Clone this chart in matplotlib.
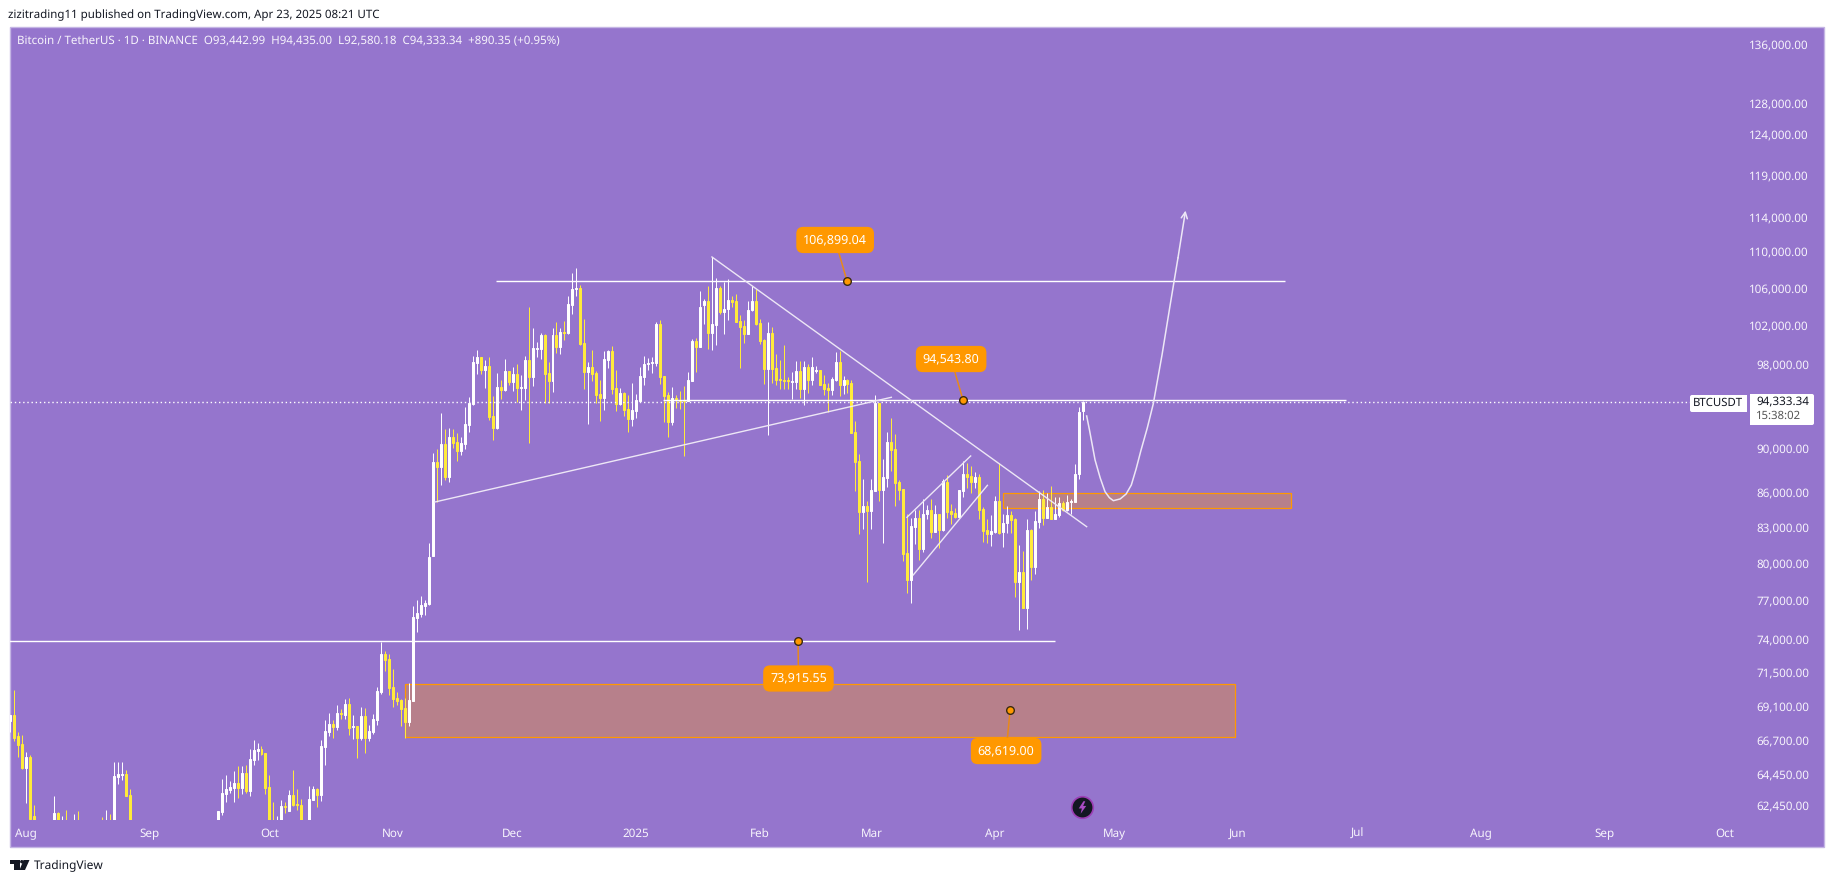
import matplotlib
matplotlib.use("Agg")
import matplotlib.pyplot as plt
from matplotlib.patches import FancyBboxPatch, Polygon, Rectangle, Circle
from matplotlib.path import Path
from matplotlib.transforms import Affine2D

# daily candles, (open, high, low, close)
jul_candles = [
    (68000, 68480, 67300, 68480), (68480, 70250, 66620, 66890), (66960, 67240, 65540, 66350),
    (66420, 67030, 64750, 64810),
]
aug_candles = [
    (64810, 65880, 62540, 65540), (65540, 65670, 61100, 61530), (61720, 62410, 59900, 60700),
    (60700, 61100, 57300, 58100), (58100, 58300, 49200, 54000), (54000, 57000, 53900, 56000),
    (56000, 57700, 54500, 55000), (55000, 62990, 54800, 61900), (61900, 61970, 60300, 60900),
    (60900, 61720, 60500, 61500), (61500, 62095, 60700, 60900), (60900, 61500, 58500, 58700),
    (58700, 61840, 58400, 59350), (59350, 62030, 58600, 58700), (58700, 59800, 56100, 57500),
    (57500, 59800, 57000, 58900), (58900, 60200, 58800, 59500), (59500, 60200, 57900, 58400),
    (58400, 61400, 58100, 59400), (59400, 61650, 58800, 59000), (59000, 62095, 58800, 61100),
    (61100, 61840, 59800, 60400), (60400, 65210, 60300, 64285), (64220, 65210, 63760, 64420),
    (64350, 65210, 64020, 64420), (64420, 64680, 62990, 62990), (63050, 63440, 58100, 59500),
    (59500, 61100, 58000, 59000), (59000, 61100, 58700, 59350), (59350, 60000, 57800, 59100),
    (59100, 59400, 57200, 57300),
]
sep_candles = [
    (57300, 58900, 57200, 57900), (57900, 59800, 57100, 59100), (59100, 59800, 57400, 57500),
    (57500, 58500, 55600, 57900), (57900, 58300, 55600, 56100), (56100, 57000, 52500, 53900),
    (53900, 54800, 53700, 54100), (54100, 55300, 53600, 54800), (54800, 58100, 54600, 57000),
    (57000, 58000, 56300, 57600), (57600, 58000, 55500, 57300), (57300, 58600, 57300, 58100),
    (58100, 60600, 57600, 60500), (60500, 60600, 59400, 60000), (60000, 60400, 58700, 59100),
    (59100, 59200, 57500, 58200), (58200, 61300, 57600, 60300), (60300, 62030, 59200, 62030),
    (61970, 64090, 61780, 63180), (63115, 64350, 62600, 63440), (63375, 63960, 63180, 63570),
    (63500, 64615, 62600, 63830), (63830, 64945, 62860, 63500), (63500, 64945, 63115, 64480),
    (64480, 65010, 63180, 63310), (63310, 66080, 62990, 65410), (65345, 66690, 65010, 66010),
    (65945, 66485, 65345, 66080), (66080, 66280, 65670, 65745), (65810, 65810, 63115, 63500),
]
oct_candles = [
    (63570, 64350, 60100, 60800), (60800, 62600, 60000, 60600), (60600, 61720, 59800, 60750),
    (60750, 62730, 60400, 62350), (62350, 62600, 61900, 62285), (62030, 63375, 62030, 63050),
    (63050, 64680, 62350, 62410), (62475, 63440, 62095, 62410), (62410, 62795, 60200, 60300),
    (60300, 61500, 60200, 61000), (61000, 63630, 60800, 62795), (62730, 63630, 62730, 63440),
    (63440, 63503, 62285, 63050), (63050, 66690, 62665, 66280), (66215, 68130, 65010, 67305),
    (67240, 68620, 66960, 67855), (67855, 68130, 66890, 67580), (67580, 69180, 67375, 68620),
    (68620, 68900, 68200, 68550), (68480, 69610, 68200, 69250), (69250, 69680, 67030, 67510),
    (67580, 68480, 66760, 67650), (67650, 67650, 65480, 66825), (66825, 69040, 66690, 68410),
    (68410, 68970, 65810, 66825), (66825, 67785, 66620, 67305), (67240, 68550, 67100, 68200),
    (68130, 70465, 67785, 70180), (70105, 73775, 69965, 72875), (72875, 73100, 71625, 72430),
    (72505, 72875, 69890, 70395),
]
nov_candles = [
    (70465, 71770, 69040, 69610), (69680, 70105, 69180, 69470), (69540, 69610, 67650, 68900),
    (68970, 69680, 66825, 67995), (67995, 70755, 67650, 69540), (69470, 76530, 69470, 75680),
    (75600, 77000, 74530, 75990), (75910, 77315, 75680, 76610), (76530, 77000, 75830, 76770),
    (76690, 81610, 76610, 80455), (80535, 89545, 80535, 88640), (88640, 89910, 85100, 88200),
    (88200, 93200, 86600, 90370), (90370, 91765, 87100, 87300), (87300, 91860, 86900, 91020),
    (91020, 91765, 90000, 90465), (90555, 91390, 88730, 89730), (89730, 91020, 89365, 90465),
    (90370, 93850, 89910, 92235), (92140, 94810, 91485, 94230), (94130, 98860, 94035, 98255),
    (98155, 99465, 97060, 98760), (98760, 98760, 97060, 97457), (97457, 98456, 95685, 97855),
    (97855, 98760, 92612, 92895), (92990, 94905, 90742, 91860), (91860, 97160, 91765, 95780),
    (95780, 96468, 94615, 95489), (95489, 98555, 95390, 97355), (97355, 97355, 95975, 96270),
]
dec_candles = [
    (96270, 97755, 95390, 97060), (97060, 98055, 94325, 95685), (95685, 96960, 93561, 95780),
    (95685, 98860, 94520, 98456), (98456, 103920, 90465, 96760), (96760, 101720, 95880, 99670),
    (99570, 100285, 98760, 99670), (99570, 101205, 98555, 100995), (100995, 101100, 94230, 97060),
    (97160, 98255, 94230, 96370), (96370, 101720, 95295, 100995), (100995, 102350, 99160, 99770),
    (99770, 101720, 99060, 101310), (101310, 102450, 100485, 101205), (101205, 105095, 101100, 104240),
    (104130, 107590, 103185, 105850), (105850, 108140, 105095, 105960), (105960, 106280, 99970, 100075),
    (100175, 102660, 95590, 97260), (97260, 98255, 92235, 97755), (97755, 99465, 96370, 97060),
    (97160, 97355, 94230, 95000), (95100, 96468, 92520, 94710), (94710, 99360, 93561, 98555),
    (98456, 99465, 97655, 99360), (99360, 99870, 95100, 95590), (95685, 97457, 93470, 94130),
    (94130, 95685, 94035, 95195), (95195, 95295, 92990, 93561), (93650, 95000, 91485, 92705),
    (92705, 96175, 92050, 93561),
]
jan_candles = [
    (93465, 95100, 92800, 94520), (94420, 97755, 94325, 96860), (96760, 98860, 95975, 98050),
    (98055, 98660, 97457, 98155), (98155, 98760, 97160, 98255), (98155, 102350, 97855, 102135),
    (102135, 102555, 96075, 96760), (96860, 96860, 92425, 94905), (95000, 95295, 91020, 92425),
    (92425, 95780, 92140, 94710), (94710, 95000, 93755, 94520), (94520, 95390, 93655, 94420),
    (94520, 95880, 89270, 94420), (94420, 97260, 94420, 96468), (96370, 100590, 96370, 100385),
    (100385, 100690, 97260, 99770), (99770, 105635, 99770, 103920), (104130, 104775, 102135, 104560),
    (104560, 106180, 99570, 101205), (101205, 109350, 99465, 102135), (102035, 107045, 99970, 105960),
    (105960, 106180, 103185, 103395), (103395, 106610, 101100, 103710), (103710, 106935, 102555, 104670),
    (104670, 105095, 103920, 104450), (104560, 105310, 102345, 102345), (102450, 103080, 97655, 101820),
    (101925, 102555, 100175, 101100), (101100, 104560, 101100, 103605), (103605, 106180, 103500, 104560),
    (104560, 105850, 102035, 102135),
]
feb_candles = [
    (102240, 102660, 100075, 100385), (100485, 100590, 96075, 97555), (97555, 102345, 91205, 101205),
    (101205, 101825, 96170, 97555), (97655, 99060, 95975, 96468), (96565, 98456, 95590, 96468),
    (96468, 99970, 95590, 96370), (96468, 96760, 95590, 96370), (96270, 97260, 94615, 96370),
    (96270, 98355, 95590, 97355), (97355, 98355, 94710, 95590), (95590, 98355, 94035, 97755),
    (97755, 98055, 95195, 96468), (96468, 98760, 95975, 97755), (97355, 97855, 97160, 97457),
    (97457, 97457, 95975, 95975), (96075, 96960, 95000, 95590), (95685, 96170, 93370, 95489),
    (95489, 96760, 95000, 96565), (96468, 99265, 96370, 98255), (98255, 99360, 94905, 95975),
    (95975, 96860, 95100, 96468), (96468, 96565, 95195, 96075), (96170, 96468, 91390, 91390),
    (91485, 92520, 86055, 88640), (88730, 89455, 82370, 84235), (84235, 87115, 82785, 84745),
    (84745, 85180, 78430, 84320),
]
mar_candles = [
    (84320, 87115, 82785, 86145), (86055, 95000, 86055, 94230), (94230, 94230, 85180, 86145),
    (86145, 89000, 81610, 87290), (87200, 91485, 86405, 90555), (90555, 92800, 87830, 89820),
    (89910, 91300, 84750, 86760), (86850, 87025, 85270, 86145), (86230, 86230, 80130, 80700),
    (80780, 84060, 77555, 78590), (78590, 83715, 76770, 83040), (82955, 84405, 81530, 83715),
    (83715, 84405, 80210, 81110), (81110, 85355, 80865, 84060), (84060, 84835, 83630, 84405),
    (84405, 85355, 82030, 82530), (82530, 84835, 82530, 84060), (84060, 84060, 81195, 82700),
    (82700, 87115, 82615, 86940), (86850, 87465, 83715, 84235), (84320, 84920, 83205, 84060),
    (84145, 84575, 83715, 83800), (83800, 86145, 83800, 86145), (86055, 88730, 85530, 87560),
    (87560, 88550, 86320, 87290), (87380, 88280, 85880, 86850), (86850, 87740, 86320, 87290),
    (87290, 87560, 83630, 84405), (84490, 84660, 81695, 82615), (82700, 83630, 81610, 82370),
    (82370, 83975, 81360, 82615),
]
apr_candles = [
    (82530, 85620, 82450, 85185), (85185, 88550, 82370, 82450), (82530, 84060, 81280, 83290),
    (83290, 84750, 82450, 83975), (83975, 84320, 82450, 83550), (83630, 83715, 77240, 78430),
    (78430, 81440, 74680, 79230), (79230, 80950, 76380, 76380), (76380, 83630, 74760, 82700),
    (82700, 82785, 78590, 79640), (79640, 84320, 79070, 83460), (83375, 86055, 82870, 85355),
    (85355, 86145, 83120, 83715), (83715, 85880, 83715, 84660), (84660, 86495, 83630, 83630),
    (83630, 85530, 83630, 84060), (83975, 85530, 83800, 85010), (85010, 85185, 84320, 84405),
    (84405, 85705, 84320, 85095), (85095, 85355, 84060, 85185), (85095, 88460, 85095, 87560),
    (87560, 93850, 87115, 93370), (93442.99, 94435.00, 92580.18, 94333.34),
]

# x axis: days counted from 1 Aug 2024
first_day = -4
month_days = [0, 31, 61, 92, 122, 153, 184, 212, 243, 273, 304, 334, 365, 396, 426]
month_labels = ["Aug", "Sep", "Oct", "Nov", "Dec", "2025", "Feb", "Mar", "Apr", "May", "Jun", "Jul", "Aug", "Sep", "Oct"]
price_ticks = [136000, 128000, 124000, 119000, 114000, 110000, 106000, 102000, 98000, 90000,
               86000, 83000, 80000, 77000, 74000, 71500, 69100, 66700, 64450, 62450]

# drawings on the chart, days and prices
top_level = 106700
mid_level = 94464
low_level = 73830
last_price = 94333.34
support_days, support_prices = [102.5, 217], [85125, 94755]
falling_days, falling_prices = [172, 266], [109390, 83000]
channel_up_days, channel_up_prices = [220.9, 236.9], [83800, 89230]
channel_lo_days, channel_lo_prices = [222.5, 241.1], [79000, 86590]
big_box = (95.1, 303.2, 66925, 70630)
small_box = (245.1, 317.2, 84580, 85890)
path_days = [266, 266.7, 268.1, 269.4, 270.6, 271.7, 272.7, 274.4, 275.9, 277.2, 278.4, 279.6, 281.2, 282.7, 284.9, 286.9, 288.9]
path_prices = [92960, 91640, 88870, 87240, 86030, 85500, 85240, 85390, 85825, 86620, 88050, 89720, 91820, 94110, 98950, 104040, 109275]
path_tip = (290.8, 114710)
callouts = [
    ("106,899.04", 202.9, 111310, 205.9, top_level),
    ("94,543.80", 232.0, 98540, 235.0, mid_level),
    ("73,915.55", 193.7, 71055, 193.6, low_level),
    ("68,619.00", 245.8, 65970, 246.8, 68800),
]

BG = "#9575CD"
UP = "#FFFFFF"
DOWN = "#FFEB3B"
ORANGE = "#FF9800"
LABEL = "#F7F4FC"
FONT = "Noto Sans"

plt.rcParams["font.family"] = [FONT, "DejaVu Sans"]
plt.rcParams["text.hinting"] = "no_hinting"

W, H = 1835, 883
fig = plt.figure(figsize=(W / 100, H / 100), dpi=100, facecolor="white")
# screen pixels, y going down, for the page furniture around the chart
px = Affine2D().scale(1, -1).translate(0, H)

fig.add_artist(Rectangle((10, 27), 1814, 820, transform=px, fc=BG, ec="#C4B5E4", lw=1, zorder=-1))

ax = fig.add_axes([10 / W, 1 - 820 / H, 1740 / W, 793 / H], facecolor="none")
ax.set_yscale("log")
ax.set_xlim(-4.09, 432.4)
ax.set_ylim(61474, 138423)
for s in ax.spines.values():
    s.set_visible(False)

candles = (jul_candles + aug_candles + sep_candles + oct_candles + nov_candles
           + dec_candles + jan_candles + feb_candles + mar_candles + apr_candles)

for left, right, low, high in [big_box, small_box]:
    ax.add_patch(Rectangle((left, low), right - left, high - low, fc=(1, 0.596, 0, 0.32), ec=ORANGE, lw=0.9, zorder=1))

for i, (o, h, l, c) in enumerate(candles):
    day = first_day + i
    col = UP if c >= o else DOWN
    ax.vlines(day, l, h, color=col, lw=0.72, zorder=2, snap=True)
    ax.bar(day, abs(c - o), bottom=min(o, c), width=0.5, color=col, ec=col, lw=0.72, zorder=3)

# levels and trend lines
line_kw = dict(color="white", lw=1.0, zorder=4, solid_capstyle="butt")
thin_kw = dict(color="#EDE7F6", lw=1.0, zorder=4)
ax.plot([117.8, 315.8], [top_level, top_level], **line_kw)
ax.plot([159.8, 331.1], [mid_level, mid_level], **line_kw)
ax.plot([-5, 258], [low_level, low_level], **line_kw)
ax.plot([-5, 417.5], [last_price, last_price], color="white", lw=1, ls=(0, (1, 2)), zorder=4)
ax.plot(support_days, support_prices, **thin_kw)
ax.plot(falling_days, falling_prices, **thin_kw)
ax.plot(channel_up_days, channel_up_prices, **thin_kw)
ax.plot(channel_lo_days, channel_lo_prices, **thin_kw)
ax.plot(path_days, path_prices, color="#EDE7F6", lw=1.1, zorder=4)
ax.annotate("", xy=path_tip, xytext=(path_days[-1], path_prices[-1]), zorder=4,
            arrowprops=dict(arrowstyle="->", color="#EDE7F6", lw=1.1, mutation_scale=11, shrinkA=0, shrinkB=0))

for text, tx, ty, ax_x, ax_y in callouts:
    ax.plot([tx, ax_x], [ty, ax_y], color="#E8891A", lw=1.1, zorder=5)
    ax.plot(ax_x, ax_y, "o", ms=5.5, mfc=ORANGE, mec="#3A2A10", mew=1, zorder=7)
    ax.text(tx, ty, text, color="white", fontsize=9, fontweight="medium", ha="center", va="center", zorder=6,
            bbox=dict(boxstyle="round,pad=0.55,rounding_size=0.55", fc=ORANGE, ec="none"))

# lightning badge
bolt = [(0.15, 1), (-0.6, -0.15), (-0.1, -0.15), (-0.3, -1), (0.6, 0.25), (0.1, 0.25), (0.45, 1)]
ax.plot(264.9, 62300, "o", ms=15.5, mfc="#131722", mec="#9C3FB5", mew=1.2, zorder=7)
ax.plot(264.9, 62300, marker=Path(bolt + [bolt[0]], closed=True), ms=9, mfc="#A94BC4", mec="none", zorder=8, ls="none")

ax.yaxis.tick_right()
ax.set_yticks(price_ticks, [f"{p:,.2f}" for p in price_ticks])
ax.minorticks_off()
ax.tick_params(axis="y", length=0, pad=42.5, labelsize=8.4, labelcolor=LABEL)
for t in ax.get_yticklabels():
    t.set_ha("right")
ax.set_xticks(month_days, month_labels)
ax.tick_params(axis="x", length=0, pad=6, labelsize=8.4, labelcolor=LABEL)
ax.get_xticklabels()[5].set_fontweight("bold")

# header and footer
fig.text(8, 15, "zizitrading11 published on TradingView.com, Apr 23, 2025 08:21 UTC", transform=px,
         fontsize=8.3, color="#131722", va="center")
fig.text(17, 41, "Bitcoin / TetherUS · 1D · BINANCE  O93,442.99  H94,435.00  L92,580.18  C94,333.34  +890.35 (+0.95%)",
         transform=px, fontsize=8.3, color=LABEL, va="center")

# last price tags
fig.add_artist(FancyBboxPatch((1692, 397), 55, 13, boxstyle="round,pad=2,rounding_size=2", transform=px, fc="white", ec="none", zorder=5))
fig.add_artist(FancyBboxPatch((1750, 396), 62, 27, boxstyle="round,pad=2,rounding_size=2", transform=px, fc="white", ec="none", zorder=5))
fig.add_artist(Rectangle((1747, 394), 3, 31, transform=px, fc=BG, ec="none", zorder=5))
fig.text(1718, 403, "BTCUSDT", transform=px, fontsize=8.2, color="#131722", ha="center", va="center", zorder=6)
fig.text(1756, 401.5, "94,333.34", transform=px, fontsize=8.4, color="#131722", va="center", zorder=6)
fig.text(1756, 416, "15:38:02", transform=px, fontsize=8.2, color="#555555", va="center", zorder=6)

# logo
logo = "#131722"
fig.add_artist(Polygon([(10, 860), (19.5, 860), (19.5, 870), (14, 870), (14, 863.5), (10, 863.5)], transform=px, fc=logo, ec="none"))
fig.add_artist(Circle((21.8, 861.7), 1.7, transform=px, fc=logo, ec="none"))
fig.add_artist(Polygon([(23.5, 860), (29.5, 860), (25, 870), (19.5, 870)], transform=px, fc=logo, ec="none"))
fig.text(34, 865.5, "TradingView", transform=px, fontsize=8.6, color="#131722", va="center")

fig.savefig("out.png", dpi=100, facecolor="white")
